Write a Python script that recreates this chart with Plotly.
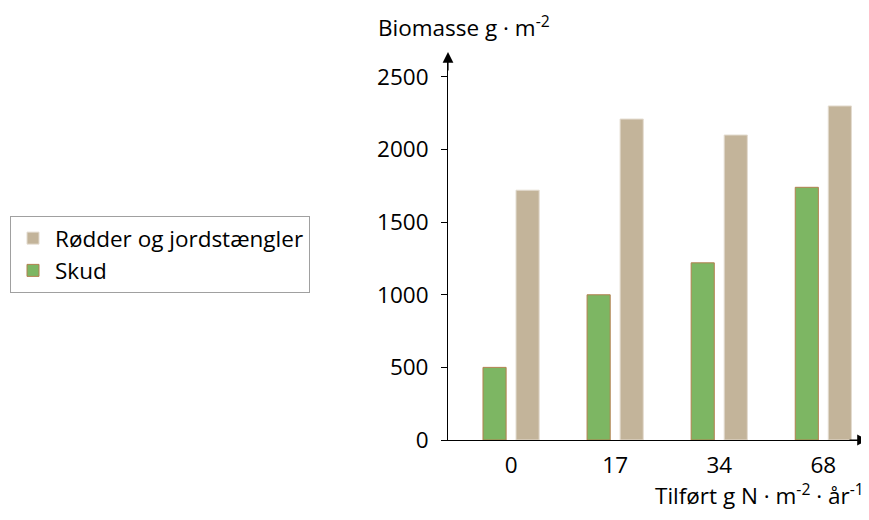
import plotly.graph_objects as go

categories = ["0", "17", "34", "68"]
roots = [1720, 2210, 2100, 2300]
shoots = [500, 1000, 1220, 1740]
series_names = ["Rødder og jordstængler", "Skud"]
y_ticks = [0, 500, 1000, 1500, 2000, 2500]

FONT = "Open Sans"
FS = 22.5
# page body has an 8px margin, so figure is drawn 8px in from the window corner
W, H = 861, 512
L, T, B, R = 440, 47, 80, 3
PW, PH = W - L - R, H - T - B

def px(X):
    return (X - 8 - L) / PW

def py(Y):
    return (H - B - (Y - 8)) / PH

fig = go.Figure()
fig.add_trace(go.Bar(x=categories, y=shoots, name=series_names[1],
                     marker=dict(color="#7db663", line=dict(color="#b3804f", width=1)),
                     legendrank=2))
fig.add_trace(go.Bar(x=categories, y=roots, name=series_names[0],
                     marker=dict(color="#c3b49a", line=dict(color="#e3dbcf", width=1)),
                     legendrank=1))

fig.update_layout(
    width=W, height=H,
    margin=dict(l=L, r=R, t=T, b=B),
    paper_bgcolor="white", plot_bgcolor="white",
    barmode="group", bargap=0.365, bargroupgap=0.3,
    font=dict(family=FONT, size=FS, color="black"),
    showlegend=True,
    legend=dict(x=px(10), y=py(216), xanchor="left", yanchor="top",
                bordercolor="#a0a0a0", borderwidth=1, traceorder="normal",
                font=dict(size=FS), tracegroupgap=0, itemwidth=34),
    xaxis=dict(type="category", range=[-0.606, 3.41], showline=True,
               linecolor="black", linewidth=1, ticks="", showgrid=False,
               tickfont=dict(size=FS), ticklabelstandoff=5),
    yaxis=dict(range=[0, 2651], tickvals=y_ticks, showline=True,
               linecolor="black", linewidth=1, ticks="outside", ticklen=6,
               tickcolor="black", showgrid=False, zeroline=False,
               tickfont=dict(size=FS), ticklabelstandoff=8),
)

# axis arrows
fig.add_annotation(xref="paper", yref="paper", x=0, y=py(52), ax=0, ay=20,
                   showarrow=True, arrowhead=2, arrowsize=1.8, arrowwidth=1.2,
                   arrowcolor="black", text="")
fig.add_annotation(xref="paper", yref="paper", x=px(868), y=0, ax=-20, ay=0,
                   showarrow=True, arrowhead=2, arrowsize=1.8, arrowwidth=1.2,
                   arrowcolor="black", text="")

fig.add_annotation(xref="paper", yref="paper", x=px(376), y=py(26),
                   xanchor="left", yanchor="middle", showarrow=False,
                   text="Biomasse g · m<sup>-2</sup>", font=dict(size=FS))
fig.add_annotation(xref="paper", yref="paper", x=px(866), y=py(494),
                   xanchor="right", yanchor="middle", showarrow=False,
                   text="Tilført g N · m<sup>-2</sup> · år<sup>-1</sup>", font=dict(size=FS))

fig.write_html("out.html")
